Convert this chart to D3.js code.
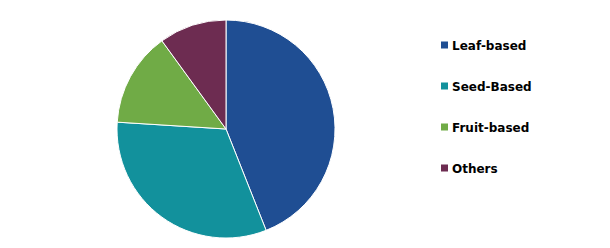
<!DOCTYPE html>
<html>
<head>
<meta charset="utf-8">
<script src="https://d3js.org/d3.v7.min.js"></script>
<style>
  body { margin: 0; background: #fff; }
</style>
</head>
<body>
<div id="chart"></div>
<script>
// chart data
var categories = ["Leaf-based", "Seed-Based", "Fruit-based", "Others"];
var shares = [44, 32, 14, 10];
var colours = ["#1F4E93", "#12919C", "#70AB46", "#6D2C51"];

var width = 610, height = 248;
var cx = 226, cy = 129, radius = 109;

var svg = d3.select("#chart").append("svg")
    .attr("width", width)
    .attr("height", height);

var pie = d3.pie().sort(null).value(function(d) { return d; });
var arc = d3.arc().innerRadius(0).outerRadius(radius);

var colour = d3.scaleOrdinal().domain(categories).range(colours);

var g = svg.append("g")
    .attr("transform", "translate(" + cx + "," + cy + ")");

g.selectAll("path")
    .data(pie(shares))
  .enter().append("path")
    .attr("d", arc)
    .attr("fill", function(d, i) { return colour(categories[i]); })
    .attr("stroke", "#fff")
    .attr("stroke-width", 1);

// legend
var legendY = d3.scalePoint().domain(categories).range([45, 168]);

var legend = svg.append("g").selectAll("g")
    .data(categories)
  .enter().append("g")
    .attr("transform", function(d) { return "translate(441," + legendY(d) + ")"; });

legend.append("rect")
    .attr("x", 0)
    .attr("y", -3.5)
    .attr("width", 7)
    .attr("height", 7)
    .attr("fill", function(d) { return colour(d); });

legend.append("text")
    .attr("x", 11)
    .attr("y", 4.5)
    .style("font-family", "DejaVu Sans, Verdana, sans-serif")
    .style("font-weight", "bold")
    .style("font-size", "12px")
    .attr("fill", "#000")
    .text(function(d) { return d; });
</script>
</body>
</html>
